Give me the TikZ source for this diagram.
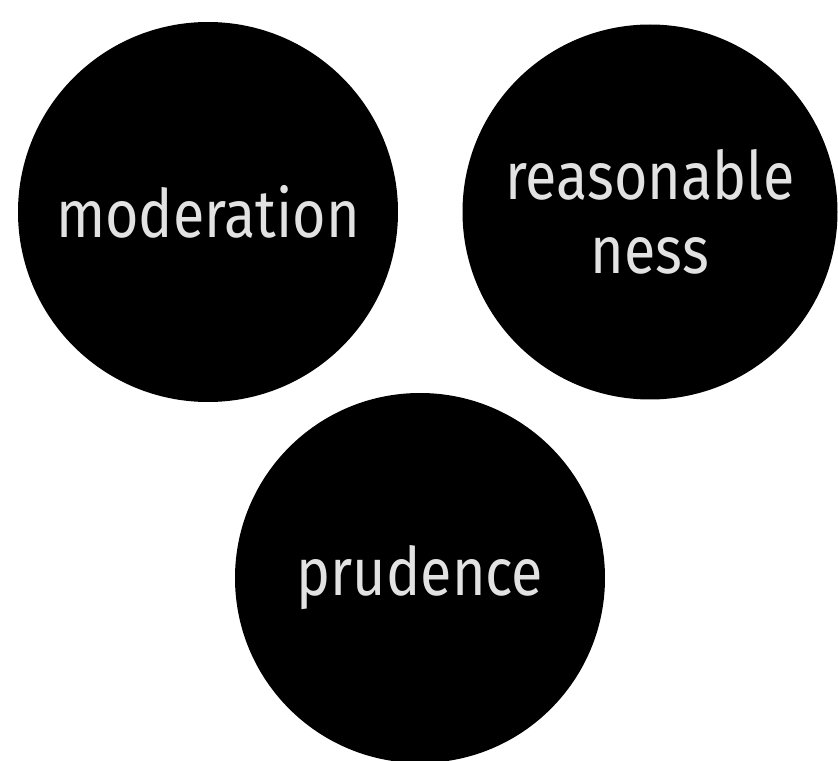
\documentclass[tikz,border=0pt]{standalone}
\usepackage{fontspec}
\setmainfont{Fira Sans}[FakeStretch=0.86]
\usepackage{tikz}

\definecolor{lighttext}{HTML}{E2E2E2}

\tikzset{
  virtue/.style={circle, fill=black, text=lighttext, align=center,
    inner sep=0pt, font=\fontsize{38}{42}\selectfont}
}

\begin{document}
\begin{tikzpicture}

\useasboundingbox (0,0) rectangle (16.76,15.2);

% The three virtues
\node[virtue, minimum size=7.6cm] (moderation) at (4.16,10.96) {moderation};
\node[virtue, minimum size=7.5cm] (reason) at (13.0,10.96) {reasonable\\ness};
\node[virtue, minimum size=7.4cm] (prudence) at (8.4,3.64) {prudence};

\end{tikzpicture}
\end{document}
